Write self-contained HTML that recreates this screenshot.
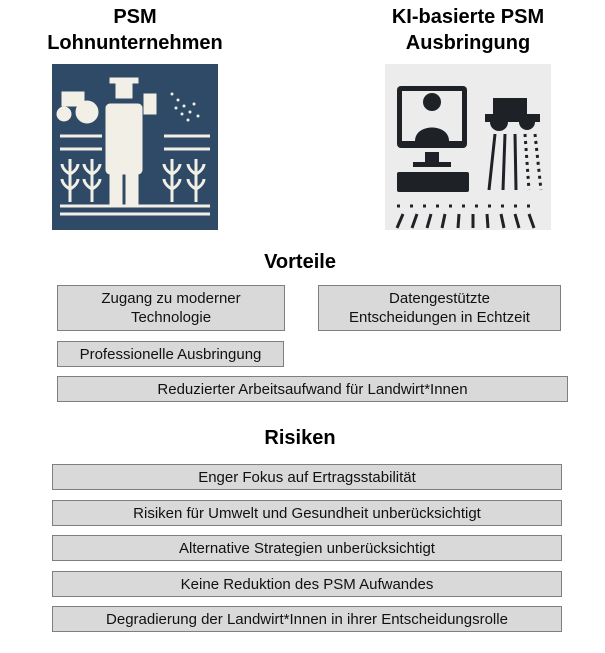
<!DOCTYPE html>
<html><head><meta charset="utf-8"><style>
body{margin:0;width:605px;height:653px;background:#fff;position:relative;font-family:"Liberation Sans",sans-serif;overflow:hidden}
.t{position:absolute;font-weight:bold;font-size:20px;text-align:center;line-height:26px;color:#000}
.b{position:absolute;background:#d9d9d9;border:1.5px solid #7f7f7f;box-sizing:border-box;display:flex;align-items:center;justify-content:center;text-align:center;font-size:15px;line-height:19px;color:#111}
svg{position:absolute}
</style></head><body>
<div class="t" style="left:30px;top:4px;width:210px">PSM<br>Lohnunternehmen</div>
<div class="t" style="left:368px;top:4px;width:200px">KI-basierte PSM<br>Ausbringung</div>

<svg style="left:52px;top:64px" width="166" height="166" viewBox="0 0 166 166">
<rect width="166" height="166" fill="#2e4a66"/>
<g fill="#f2efe6" stroke="#f2efe6">
<rect x="58" y="14" width="28" height="5"/><rect x="64" y="20" width="16" height="14"/>
<rect x="54" y="40" width="36" height="70" rx="4"/><rect x="58" y="108" width="12" height="32"/><rect x="74" y="108" width="12" height="32"/>
<rect x="10" y="28" width="22" height="14"/><circle cx="12" cy="50" r="7"/><circle cx="35" cy="48" r="11"/>
<rect x="92" y="30" width="12" height="20"/>
</g>
<g fill="#f2efe6"><circle cx="120" cy="30" r="1.5"/><circle cx="126" cy="36" r="1.5"/><circle cx="132" cy="42" r="1.5"/><circle cx="138" cy="48" r="1.5"/><circle cx="124" cy="44" r="1.5"/><circle cx="130" cy="50" r="1.5"/><circle cx="136" cy="56" r="1.5"/><circle cx="142" cy="40" r="1.5"/><circle cx="146" cy="52" r="1.5"/></g>
<g stroke="#f2efe6" stroke-width="3" fill="none">
<line x1="8" y1="72" x2="50" y2="72"/><line x1="8" y1="85" x2="50" y2="85"/><line x1="112" y1="72" x2="158" y2="72"/><line x1="112" y1="85" x2="158" y2="85"/>
<line x1="8" y1="142" x2="158" y2="142"/><line x1="8" y1="150" x2="158" y2="150"/>
<path d="M18 138V95M18 110c-8-4-8-10-8-10M18 110c8-4 8-10 8-10M18 125c-8-4-8-10-8-10M18 125c8-4 8-10 8-10"/>
<path d="M40 138V95M40 110c-8-4-8-10-8-10M40 110c8-4 8-10 8-10M40 125c-8-4-8-10-8-10M40 125c8-4 8-10 8-10"/>
<path d="M120 138V95M120 110c-8-4-8-10-8-10M120 110c8-4 8-10 8-10M120 125c-8-4-8-10-8-10M120 125c8-4 8-10 8-10"/>
<path d="M144 138V95M144 110c-8-4-8-10-8-10M144 110c8-4 8-10 8-10M144 125c-8-4-8-10-8-10M144 125c8-4 8-10 8-10"/>
</g>
</svg>

<svg style="left:385px;top:64px" width="166" height="166" viewBox="0 0 166 166">
<rect width="166" height="166" fill="#ececec"/>
<g fill="#1e2226">
<rect x="12" y="22" width="70" height="62" rx="4"/>
<rect x="40" y="88" width="14" height="10"/><rect x="28" y="98" width="38" height="5"/>
<rect x="12" y="108" width="72" height="20" rx="2"/>
<rect x="108" y="34" width="34" height="20"/><circle cx="114" cy="58" r="9"/><circle cx="142" cy="58" r="8"/><rect x="100" y="50" width="55" height="8"/>
</g>
<rect x="17" y="27" width="60" height="50" fill="#ececec"/>
<circle cx="47" cy="38" r="9" fill="#1e2226"/><path d="M30 77c0-18 34-18 34 0z" fill="#1e2226"/>
<g stroke="#1e2226" stroke-width="3" fill="none">
<line x1="110" y1="70" x2="104" y2="126"/><line x1="120" y1="70" x2="118" y2="126"/><line x1="130" y1="70" x2="131" y2="126"/><line x1="140" y1="70" x2="144" y2="126" stroke-dasharray="3 4"/><line x1="150" y1="70" x2="156" y2="126" stroke-dasharray="3 4"/>
<path d="M12 142h142" stroke-dasharray="3 10"/>
<path d="M18 150l-6 14M32 150l-5 14M46 150l-4 14M60 150l-3 14M74 150l-1 14M88 150v14M102 150l1 14M116 150l3 14M130 150l4 14M144 150l5 14"/>
</g>
</svg>

<div class="t" style="left:200px;top:249px;width:200px">Vorteile</div>
<div class="b" style="left:57px;top:285px;width:228px;height:46px">Zugang zu moderner<br>Technologie</div>
<div class="b" style="left:318px;top:285px;width:243px;height:46px">Datengestützte<br>Entscheidungen in Echtzeit</div>
<div class="b" style="left:57px;top:341px;width:227px;height:26px">Professionelle Ausbringung</div>
<div class="b" style="left:57px;top:376px;width:511px;height:26px">Reduzierter Arbeitsaufwand für Landwirt*Innen</div>

<div class="t" style="left:200px;top:425px;width:200px">Risiken</div>
<div class="b" style="left:52px;top:464px;width:510px;height:26px">Enger Fokus auf Ertragsstabilität</div>
<div class="b" style="left:52px;top:500px;width:510px;height:26px">Risiken für Umwelt und Gesundheit unberücksichtigt</div>
<div class="b" style="left:52px;top:535px;width:510px;height:26px">Alternative Strategien unberücksichtigt</div>
<div class="b" style="left:52px;top:571px;width:510px;height:26px">Keine Reduktion des PSM Aufwandes</div>
<div class="b" style="left:52px;top:606px;width:510px;height:26px">Degradierung der Landwirt*Innen in ihrer Entscheidungsrolle</div>
</body></html>
